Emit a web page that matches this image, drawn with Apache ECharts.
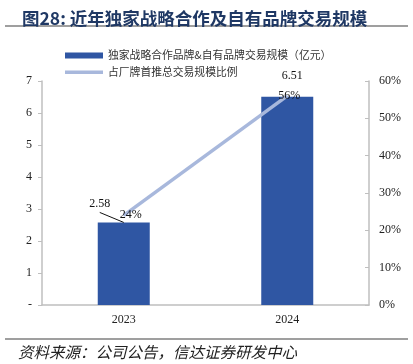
<!DOCTYPE html>
<html><head><meta charset="utf-8">
<script src="https://cdn.jsdelivr.net/npm/echarts@6/dist/echarts.min.js"></script>
<style>html,body{margin:0;padding:0;background:#fff}#c{width:413px;height:364px}</style>
</head><body><div id="c"></div>
<script>
var categories = ['2023', '2024'];
var scaleValues = [2.58, 6.51];
var shareValues = [0.24, 0.56];
var leftTicks = ['-', '1', '2', '3', '4', '5', '6', '7'];
var seriesNames = ['独家战略合作品牌&自有品牌交易规模（亿元）', '占厂牌首推总交易规模比例'];

var chart = echarts.init(document.getElementById('c'));
var serif = '"Liberation Serif", "Times New Roman", serif';
var cjk = '"Noto Sans CJK SC", sans-serif';
var barLabelShift = [[-24, -8], [5, -10]];
var lineLabelShift = [[7, 11], [2, 11]];
chart.setOption({
  animation: false,
  title: {
    text: '图28: 近年独家战略合作及自有品牌交易规模',
    left: 17, top: 5,
    textStyle: {fontSize: 17.5, fontWeight: 'bold', color: '#1f3864', fontFamily: cjk}
  },
  graphic: [
    {type: 'line', shape: {x1: 5, y1: 26, x2: 408, y2: 26}, style: {stroke: '#7f7f7f', lineWidth: 1.5}},
    {type: 'line', shape: {x1: 5, y1: 339, x2: 408, y2: 339}, style: {stroke: '#7f7f7f', lineWidth: 1.5}},
    {type: 'text', left: 18, top: 344, style: {text: '资料来源：公司公告，信达证券研发中心', fontSize: 15.5, fontStyle: 'italic', fill: '#222', fontFamily: cjk}}
  ],
  legend: {
    orient: 'vertical', left: 60, top: 45, itemGap: 6,
    itemWidth: 38, itemHeight: 6,
    textStyle: {fontSize: 10.8, color: '#333', fontFamily: cjk},
    data: [
      {name: seriesNames[0], icon: 'rect'},
      {name: seriesNames[1], icon: 'path://M0,0L38,0L38,3.5L0,3.5Z'}
    ]
  },
  grid: {left: 42, right: 44, top: 81, bottom: 59},
  xAxis: {
    type: 'category', data: categories,
    axisLine: {lineStyle: {color: '#bfbfbf', width: 1.5}},
    axisTick: {show: false},
    axisLabel: {fontSize: 12, color: '#222', fontFamily: serif, margin: 9}
  },
  yAxis: [
    {
      type: 'value', min: 0, max: 7, interval: 1,
      axisLine: {show: true, lineStyle: {color: '#bfbfbf', width: 1.5}},
      axisTick: {show: true, length: 4, lineStyle: {color: '#bfbfbf'}},
      splitLine: {show: false},
      axisLabel: {fontSize: 12, color: '#222', fontFamily: serif, margin: 10,
        formatter: function (v) { return leftTicks[Math.round(v)]; }}
    },
    {
      type: 'value', min: 0, max: 0.6, interval: 0.1,
      axisLine: {show: true, lineStyle: {color: '#bfbfbf', width: 1.5}},
      axisTick: {show: true, inside: true, length: 4, lineStyle: {color: '#bfbfbf'}},
      splitLine: {show: false},
      axisLabel: {fontSize: 12, color: '#222', fontFamily: serif, margin: 10,
        formatter: function (v) { return Math.round(v * 100) + '%'; }}
    }
  ],
  series: [
    {
      name: seriesNames[0], type: 'bar', data: scaleValues, barWidth: 52,
      itemStyle: {color: '#2f56a3'},
      label: {show: true, position: 'top', distance: 5, fontSize: 12, color: '#111', fontFamily: serif},
      labelLayout: function (p) {
        return {dx: barLabelShift[p.dataIndex][0], dy: barLabelShift[p.dataIndex][1]};
      }
    },
    {
      name: seriesNames[1], type: 'line', yAxisIndex: 1,
      data: shareValues.map(function (v, i) {
        return {value: v, label: {offset: lineLabelShift[i]}};
      }),
      symbol: 'circle', symbolSize: 1, showSymbol: true,
      lineStyle: {color: '#a8b8dc', width: 3.5},
      itemStyle: {color: '#a8b8dc'},
      label: {show: true, position: 'top', distance: 5, fontSize: 12, color: '#111', fontFamily: serif,
        formatter: function (p) { return Math.round(p.value * 100) + '%'; }}
    }
  ]
});
// leader line for first bar label, from label to bar top centre
var top0 = chart.convertToPixel({seriesIndex: 0}, [0, scaleValues[0]]);
chart.setOption({
  graphic: [
    {type: 'line', shape: {x1: 5, y1: 26, x2: 408, y2: 26}, style: {stroke: '#7f7f7f', lineWidth: 1.5}},
    {type: 'line', shape: {x1: 5, y1: 339, x2: 408, y2: 339}, style: {stroke: '#7f7f7f', lineWidth: 1.5}},
    {type: 'text', left: 18, top: 344, style: {text: '资料来源：公司公告，信达证券研发中心', fontSize: 15.5, fontStyle: 'italic', fill: '#222', fontFamily: cjk}},
    {type: 'line', z: 10, shape: {x1: top0[0] - 24, y1: top0[1] - 10, x2: top0[0], y2: top0[1]}, style: {stroke: '#111', lineWidth: 1}}
  ]
}, {replaceMerge: ['graphic']});
</script></body></html>
